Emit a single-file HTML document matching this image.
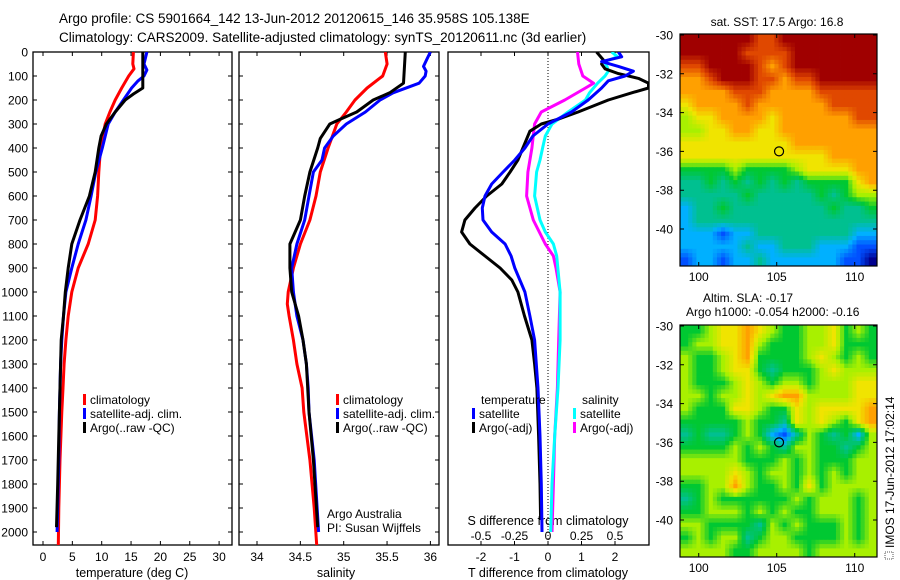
<!DOCTYPE html>
<html><head><meta charset="utf-8"><style>
html,body{margin:0;padding:0;background:#fff;}
svg{display:block;font-family:"Liberation Sans",sans-serif;}
</style></head><body>
<svg id="fig" width="900" height="580" viewBox="0 0 900 580" xmlns="http://www.w3.org/2000/svg">
<rect x="0" y="0" width="900" height="580" fill="#fff"/>
<text x="59" y="23" font-size="13.5">Argo profile: CS 5901664_142 13-Jun-2012 20120615_146 35.958S 105.138E</text>
<text x="59" y="42" font-size="13.5">Climatology: CARS2009. Satellite-adjusted climatology: synTS_20120611.nc (3d earlier)</text>
<g id="g"></g>
</svg>
<script>
// ---------- profile data (depth in m) ----------
const tDepthRed = [0,50,70,100,150,200,250,300,400,500,600,700,800,900,1000,1100,1200,1300,1400,1500,1700,1900,2060];
const tRed      = [15.4,15.3,15.5,14.6,13.4,12.3,11.4,10.6,9.8,9.5,9.3,8.9,7.7,6.0,4.9,4.3,3.9,3.6,3.4,3.2,2.9,2.7,2.6];
const tDepthBlue = [0,50,75,100,120,150,200,250,300,400,500,600,700,800,900,1000,1100,1200,1300,1500,1700,2000];
const tBlue      = [17.7,17.2,17.7,17.2,16.2,15.1,13.7,12.3,11.1,10.1,9.0,8.2,7.3,6.0,4.9,3.9,3.5,3.2,3.0,2.8,2.7,2.4];
const tDepthBlack = [0,150,175,200,250,300,350,400,500,600,700,800,900,1000,1100,1200,1400,1600,1800,1980];
const tBlack      = [17.0,17.0,15.4,14.0,12.3,10.8,9.9,9.5,8.9,7.9,6.3,4.9,4.3,3.8,3.5,3.1,2.9,2.7,2.5,2.3];

const sDepthRed = [0,50,100,150,200,250,300,400,500,600,700,800,900,1000,1050,1100,1200,1300,1400,1500,1700,1900,2060];
const sRed      = [35.48,35.50,35.45,35.27,35.13,35.03,34.92,34.82,34.73,34.68,34.61,34.50,34.42,34.36,34.35,34.37,34.42,34.46,34.52,34.54,34.61,34.66,34.69];
const sDepthBlue = [0,30,60,80,100,130,170,200,250,300,350,400,450,500,600,700,800,900,1000,1100,1200,1300,1400,1500,1700,2000];
const sBlue      = [36.0,35.96,35.92,35.95,35.94,35.87,35.57,35.42,35.25,35.03,34.88,34.78,34.75,34.65,34.60,34.55,34.46,34.40,34.42,34.46,34.53,34.57,34.59,34.60,34.66,34.71];
const sDepthBlack = [0,130,170,200,250,280,300,360,400,500,600,700,800,900,1000,1100,1200,1300,1500,1700,1980];
const sBlack      = [35.71,35.69,35.53,35.34,35.15,34.96,34.84,34.73,34.70,34.61,34.55,34.50,34.38,34.38,34.40,34.48,34.53,34.57,34.60,34.65,34.70];

const dDepthTB = [0,33,50,70,90,110,130,150,170,200,250,280,300,330,400,450,500,550,600,650,700,750,800,850,900,950,1000,1100,1200,1300,1400,1600,1800,1950];
const dTArgo   = [1.45,1.65,1.6,1.7,2.1,2.7,3.0,3.0,2.5,1.8,0.9,0.3,-0.2,-0.54,-0.75,-0.9,-1.13,-1.38,-1.83,-2.18,-2.48,-2.58,-2.33,-1.88,-1.43,-1.08,-0.9,-0.7,-0.48,-0.4,-0.33,-0.28,-0.24,-0.22];
const dDepthTS = [0,20,40,60,80,100,120,150,200,250,300,350,400,450,500,550,600,650,700,750,800,850,900,1000,1100,1200,1400,1600,1800,2000];
const dTSat    = [2.1,2.2,1.6,2.1,2.55,2.3,1.8,1.6,1.2,0.7,0.0,-0.45,-0.69,-0.99,-1.34,-1.68,-1.88,-1.96,-1.94,-1.68,-1.28,-1.1,-0.99,-0.69,-0.54,-0.4,-0.3,-0.24,-0.2,-0.18];
const dDepthSS = [0,20,40,60,80,100,130,170,200,250,300,350,400,450,500,600,700,750,800,850,1000,1200,1400,1600,1800,2000];
const dSSat    = [0.475,0.52,0.42,0.44,0.45,0.425,0.37,0.31,0.28,0.15,0.03,-0.02,-0.04,-0.06,-0.085,-0.1,-0.06,-0.02,0.04,0.065,0.09,0.09,0.075,0.05,0.03,0.02];
const dDepthSA = [0,50,100,130,150,200,250,300,400,500,600,700,800,850,900,1000,1200,1400,1600,1800,2000];
const dSArgo   = [0.22,0.23,0.26,0.34,0.28,0.125,-0.05,-0.1,-0.12,-0.15,-0.16,-0.11,-0.02,0.04,0.06,0.09,0.08,0.07,0.05,0.04,0.03];

// tick label arrays
const depthTicks = [0,100,200,300,400,500,600,700,800,900,1000,1100,1200,1300,1400,1500,1600,1700,1800,1900,2000];
const tempTicks = [0,5,10,15,20,25,30];
const salTicks = [34,34.5,35,35.5,36];
const salTickLabels = ["34","34.5","35","35.5","36"];
const dTTicks = [-2,-1,0,1,2];
const dSTicks = [-0.5,-0.25,0,0.25,0.5];
const dSTickLabels = ["-0.5","-0.25","0","0.25","0.5"];
const latTicks = [-30,-32,-34,-36,-38,-40];
const lonTicks = [100,105,110];

// map grids (digit = colour level)
const sstGrid = [
"9999998899999999","9999988889999999","8899998789999999","7789998878899999",
"7777888777788888","6777787777778888","5667777677777788","5566776677777777",
"6666666667777777","6666666666667777","4444544445666677","3343434343444467",
"3333343333343455","2334333333334334","2333333333333333","2221223333333322",
"2222232233322211","1221223222222110"];
const slaGrid = [
"4456676544556454","4556675444556444","5445674444565454","5445664344456555",
"5444565455455566","5545565677555566","5444665446566667","4444454436565467",
"3433454213543425","4444545435544345","5555544454544455","5555654554545455",
"4455754454645555","3454444445455545","4455545454455545","5544443545444545",
"4545534554444545","5555445555455555"];
const argoLon = 105.15, argoLat = -36.0;

// ---------- helpers ----------
const NS = "http://www.w3.org/2000/svg";
const G = document.getElementById("g");
function mk(tag, attrs, parent){
  const e = document.createElementNS(NS, tag);
  for (const k in attrs) e.setAttribute(k, attrs[k]);
  (parent||G).appendChild(e);
  return e;
}
const yD = d => 52 + d*0.24;
const xT = t => 43 + t*5.87;
const xS = s => 257 + (s-34)*86.7;
const xDT = t => 548 + t*33.5;
const xDS = s => 548 + s*134;
const TOP = 52, BOT = 545;
const P = [[33,232],[239,439],[448,649]];

const defs = mk("defs",{});
P.forEach((p,i)=>{
  const cp = mk("clipPath",{id:"cp"+i},defs);
  mk("rect",{x:p[0],y:TOP,width:p[1]-p[0],height:BOT-TOP},cp);
});

P.forEach((p,i)=>{
  const r = mk("rect",{x:p[0],y:TOP,width:p[1]-p[0],height:BOT-TOP,fill:"none",stroke:"#000","stroke-width":1.3});
  
  
  if (i<2){
    depthTicks.forEach(d=>{
      const tk = mk("path",{d:`M${p[0]} ${yD(d)}h4M${p[1]} ${yD(d)}h-4`,stroke:"#000","stroke-width":1});
      
      
    });
  }
});
depthTicks.forEach(d=>{
  const t = mk("text",{x:28,y:yD(d)+4.5,"font-size":12,"text-anchor":"end"});
  t.textContent = d;
  
  
});
function xticks(vals, labels, fx, ly){
  vals.forEach((v,i)=>{
    const x = fx(v);
    const tk = mk("path",{d:`M${x} ${BOT}v-4M${x} ${TOP}v4`,stroke:"#000","stroke-width":1});
    
    
    const t = mk("text",{x:x,y:ly,"font-size":12,"text-anchor":"middle"});
    t.textContent = labels[i];
    
    
  });
}
xticks(tempTicks, tempTicks.map(String), xT, 561);
xticks(salTicks, salTickLabels, xS, 561);
xticks(dTTicks, dTTicks.map(String), xDT, 561);
dSTicks.forEach((v,i)=>{
  const t = mk("text",{x:xDS(v),y:540,"font-size":12,"text-anchor":"middle"});
  t.textContent = dSTickLabels[i];
  
  
});
const z = mk("line",{x1:xDT(0),x2:xDT(0),y1:TOP,y2:BOT,stroke:"#000","stroke-width":1,"stroke-dasharray":"1,2"});



[["temperature (deg C)",132,577,"x-axis-title-temperature"],["salinity",336,577,"x-axis-title-salinity"],
 ["T difference from climatology",548,577,"x-axis-title-t-diff"],["S difference from climatology",548,525,"x-axis-title-s-diff"]].forEach(a=>{
  const t = mk("text",{x:a[1],y:a[2],"font-size":12.5,"text-anchor":"middle"});
  t.textContent = a[0];
  
  
});

function line(ds, vs, fx, col, clip, name){
  const pts = ds.map((d,i)=>fx(vs[i]).toFixed(1)+","+yD(d).toFixed(1)).join(" ");
  const pl = mk("polyline",{points:pts,fill:"none",stroke:col,"stroke-width":3,"stroke-linejoin":"round","clip-path":`url(#cp${clip})`});
  
  
}
line(tDepthRed,tRed,xT,"#ff0000",0,"temp-climatology-line");
line(tDepthBlue,tBlue,xT,"#0000ff",0,"temp-satellite-adj-line");
line(tDepthBlack,tBlack,xT,"#000000",0,"temp-argo-line");
line(sDepthRed,sRed,xS,"#ff0000",1,"sal-climatology-line");
line(sDepthBlue,sBlue,xS,"#0000ff",1,"sal-satellite-adj-line");
line(sDepthBlack,sBlack,xS,"#000000",1,"sal-argo-line");
line(dDepthSA,dSArgo,xDS,"#ff00ff",2,"s-diff-argo-line");
line(dDepthSS,dSSat,xDS,"#00ffff",2,"s-diff-satellite-line");
line(dDepthTB,dTArgo,xDT,"#000000",2,"t-diff-argo-line");
line(dDepthTS,dTSat,xDT,"#0000ff",2,"t-diff-satellite-line");

function legend(x, y, items, name){
  items.forEach((it,i)=>{
    const yy = y + i*14;
    const b = mk("rect",{x:x,y:yy-10,width:3,height:11,fill:it[1]});
    
    
    const t = mk("text",{x:x+7,y:yy,"font-size":12});
    t.textContent = it[0];
    
    
  });
}
legend(83,404,[["climatology","#f00"],["satellite-adj. clim.","#00f"],["Argo(..raw -QC)","#000"]],"temp-legend");
legend(336,404,[["climatology","#f00"],["satellite-adj. clim.","#00f"],["Argo(..raw -QC)","#000"]],"sal-legend");
legend(472,418,[["satellite","#00f"],["Argo(-adj)","#000"]],"t-diff-legend");
legend(573,418,[["satellite","#0ff"],["Argo(-adj)","#f0f"]],"s-diff-legend");
[["temperature",481,404],["salinity",582,404],["Argo Australia",327,518],["PI: Susan Wijffels",327,532]].forEach(a=>{
  const t = mk("text",{x:a[1],y:a[2],"font-size":12});
  t.textContent = a[0];
  
  
});

// ---------- maps ----------
const colours = [[0,0,143],[0,80,255],[0,176,255],[0,192,144],[0,200,50],[168,240,0],[240,228,0],[255,160,0],[224,72,0],[160,0,0]];
function cmap(v){
  v = Math.max(0, Math.min(9, v));
  const i = Math.min(8, Math.floor(v)), f = v - i;
  const a = colours[i], b = colours[i+1];
  return `rgb(${a.map((c,k)=>Math.round(c+(b[k]-c)*f)).join(",")})`;
}
const MX0=680, MX1=877, LON0=98.8, LON1=111.4;
const xL = lon => MX0 + (lon-LON0)*15.6;
const UP = 3;
function sample(grid, r, c){
  const R = grid.length, C = grid[0].length;
  r = Math.max(0, Math.min(R-1, r)); c = Math.max(0, Math.min(C-1, c));
  const r0 = Math.floor(r), c0 = Math.floor(c), r1 = Math.min(R-1,r0+1), c1 = Math.min(C-1,c0+1);
  const fr = r-r0, fc = c-c0;
  const g = (a,b)=>+grid[a][b];
  return g(r0,c0)*(1-fr)*(1-fc)+g(r0,c1)*(1-fr)*fc+g(r1,c0)*fr*(1-fc)+g(r1,c1)*fr*fc;
}
function drawMap(grid, top, name){
  const yL = lat => top + (-30-lat)*19.4 + 1;
  const bottom = top + 232;
  const rows = grid.length*UP, cols = grid[0].length*UP;
  const cw = (MX1-MX0)/cols, ch = (bottom-top)/rows;
  for (let r=0;r<rows;r++){
    for (let c=0;c<cols;c++){
      const v = sample(grid, (r+0.5)/UP-0.5, (c+0.5)/UP-0.5);
      const cell = mk("rect",{x:(MX0+c*cw).toFixed(2),y:(top+r*ch).toFixed(2),width:(cw+0.4).toFixed(2),height:(ch+0.4).toFixed(2),fill:cmap(v)});
      
      
    }
  }
  const fr = mk("rect",{x:MX0,y:top,width:MX1-MX0,height:bottom-top,fill:"none",stroke:"#000","stroke-width":1.2});
  
  
  latTicks.forEach(l=>{
    const tk = mk("path",{d:`M${MX0} ${yL(l)}h4M${MX1} ${yL(l)}h-4`,stroke:"#000"});
    
    
    const t = mk("text",{x:673,y:yL(l)+4.5,"font-size":12,"text-anchor":"end"});
    t.textContent = l;
    
    
  });
  lonTicks.forEach(l=>{
    const tk = mk("path",{d:`M${xL(l)} ${top}v4M${xL(l)} ${bottom}v-4`,stroke:"#000"});
    
    
    const t = mk("text",{x:xL(l),y:bottom+15,"font-size":12,"text-anchor":"middle"});
    t.textContent = l;
    
    
  });
  const m = mk("circle",{cx:xL(argoLon),cy:yL(argoLat),r:4.5,fill:"none",stroke:"#000","stroke-width":1.2});
  
  
}
drawMap(sstGrid, 34, "sst-map");
drawMap(slaGrid, 325, "sla-map");
[["sat. SST: 17.5 Argo: 16.8",777,26,"middle","sst-map-title"],["Altim. SLA: -0.17",703,302,"start","sla-map-title"],
 ["Argo h1000: -0.054 h2000: -0.16",686,316,"start","sla-map-subtitle"]].forEach(a=>{
  const t = mk("text",{x:a[1],y:a[2],"font-size":12,"text-anchor":a[3]});
  t.textContent = a[0];
  
  
});
const ic = mk("rect",{x:885,y:552,width:8,height:7,fill:"none",stroke:"#555","stroke-width":1,"stroke-dasharray":"1,1"});


const vt = mk("text",{x:0,y:0,"font-size":12,transform:"translate(894,548) rotate(-90)"});
vt.textContent = "IMOS 17-Jun-2012 17:02:14";


</script>
</body></html>
